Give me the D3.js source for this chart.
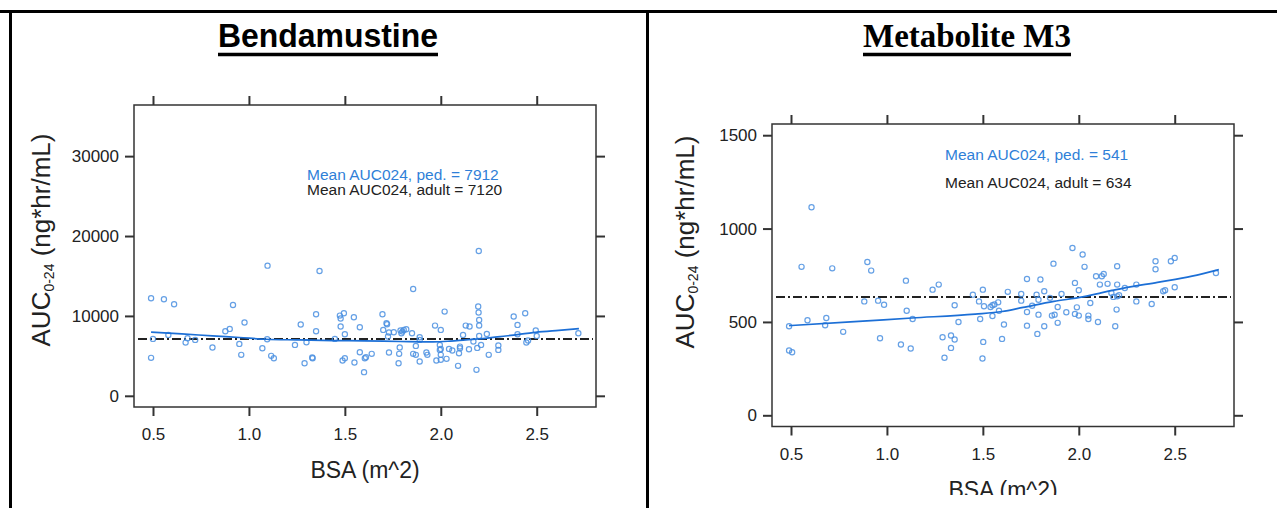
<!DOCTYPE html>
<html>
<head>
<meta charset="utf-8">
<script src="https://cdn.jsdelivr.net/npm/d3@7"></script>
<style>
  body { margin: 0; background: #fff; }
  svg { display: block; }
  .tick text { font-family: "Liberation Sans", Arial, sans-serif; fill: #222; }
</style>
</head>
<body>
<svg id="chart" width="1277" height="508"></svg>
<script>
// ---- data ----
const xTicks = [0.5, 1.0, 1.5, 2.0, 2.5];
const bendaYTicks = [0, 10000, 20000, 30000];
const m3YTicks = [0, 500, 1000, 1500];

const bendaBSA = [0.49, 0.557, 0.61, 0.49, 0.50, 0.58, 0.67, 0.68, 0.72, 0.81, 0.877, 0.90, 0.917, 0.95, 0.96, 0.977,
  1.07, 1.095, 1.097, 1.116, 1.13, 1.24, 1.27, 1.29, 1.30, 1.33, 1.332, 1.35, 1.35, 1.368, 1.448, 1.474, 1.478, 1.478,
  1.488, 1.495, 1.50, 1.50, 1.547, 1.55, 1.578, 1.578, 1.60, 1.604, 1.61, 1.64, 1.696, 1.70, 1.717, 1.72, 1.725, 1.73,
  1.73, 1.755, 1.78, 1.783, 1.786, 1.79, 1.795, 1.80, 1.807, 1.82, 1.85, 1.856, 1.856, 1.87, 1.87, 1.89, 1.89, 1.89,
  1.925, 1.93, 1.97, 1.977, 1.995, 1.995, 2.0, 2.0, 2.0, 2.0, 2.02, 2.03, 2.043, 2.06, 2.09, 2.095, 2.10, 2.10, 2.116,
  2.13, 2.15, 2.147, 2.17, 2.186, 2.19, 2.195, 2.197, 2.198, 2.2, 2.2, 2.2, 2.21, 2.24, 2.25, 2.30, 2.30, 2.38, 2.40,
  2.40, 2.44, 2.446, 2.455, 2.495, 2.50, 2.717];
const bendaAUC = [12210, 12090, 11460, 4750, 7125, 7625, 6660, 7200, 7000, 6040, 8080, 8375, 11375, 6500, 5125, 9170,
  5960, 7080, 16290, 5000, 4710, 6375, 8920, 4080, 6710, 4790, 4700, 10210, 8080, 15625, 7125, 10040, 9670, 8670,
  4420, 10330, 7710, 4710, 9830, 4170, 8580, 5460, 2960, 4710, 4830, 5250, 10210, 8250, 9080, 8950, 7420, 5420,
  7920, 7960, 4080, 5250, 6040, 8170, 7830, 8040, 8250, 8330, 7830, 13375, 5250, 6250, 5125, 4290, 7330, 7000,
  5420, 5125, 8790, 4420, 5750, 6375, 5125, 4500, 8250, 5875, 10540, 4625, 5875, 5667, 3750, 5330, 5960, 6160, 7625,
  8790, 8670, 5830, 6790, 3250, 6000, 11170, 10420, 18125, 9500, 8800, 7500, 6375, 7750, 5125, 6290, 5750, 9920, 7710,
  8875, 10330, 6670, 6920, 8170, 7500, 7830];

const bendaFitBSA = [0.49, 0.65, 0.81, 0.95, 1.09, 1.25, 1.44, 1.6, 1.79, 1.96, 2.05, 2.13, 2.22, 2.31, 2.4, 2.48, 2.6, 2.72];
const bendaFitAUC = [7960, 7750, 7500, 7300, 7080, 7000, 6920, 6880, 6800, 6750, 6850, 7000, 7150, 7420, 7650, 7920, 8150, 8420];

const m3BSA = [0.49, 0.49, 0.506, 0.555, 0.586, 0.607, 0.678, 0.684, 0.715, 0.772, 0.882, 0.898, 0.918, 0.954, 0.964,
  0.985, 1.073, 1.099, 1.103, 1.124, 1.134, 1.238, 1.27, 1.29, 1.30, 1.334, 1.334, 1.353, 1.353, 1.373, 1.448, 1.48,
  1.486, 1.498, 1.502, 1.50, 1.506, 1.54, 1.55, 1.55, 1.56, 1.58, 1.584, 1.60, 1.61, 1.63, 1.70, 1.70, 1.73, 1.73, 1.73,
  1.757, 1.78, 1.784, 1.79, 1.79, 1.80, 1.82, 1.82, 1.85, 1.86, 1.868, 1.874, 1.89, 1.89, 1.91, 1.935, 1.967, 1.98,
  1.98, 1.99, 2.0, 2.0, 2.02, 2.03, 2.05, 2.05, 2.06, 2.09, 2.10, 2.11, 2.12, 2.13, 2.15, 2.17, 2.18, 2.19, 2.197,
  2.20, 2.20, 2.20, 2.21, 2.24, 2.30, 2.30, 2.38, 2.40, 2.40, 2.44, 2.45, 2.48, 2.50, 2.50, 2.715];
const m3AUC = [477, 347, 338, 795, 509, 1114, 482, 521, 787, 447, 610, 821, 775, 614, 413,
  592, 379, 721, 560, 358, 516, 673, 700, 418, 308, 427, 361, 406, 589, 500, 646, 610,
  516, 304, 393, 673, 584, 580, 589, 532, 593, 605, 560, 409, 486, 661, 650, 614, 730, 553, 480,
  587, 646, 436, 619, 539, 727, 664, 477, 629, 534, 812, 539, 495, 580, 650, 552, 896, 709,
  543, 578, 670, 534, 861, 795, 534, 516, 601, 745, 500, 700, 745, 757, 704, 655, 634, 477, 566,
  798, 700, 637, 643, 682, 700, 610, 596, 825, 782, 664, 670, 825, 843, 686, 762];

const m3FitBSA = [0.49, 0.81, 1.13, 1.46, 1.6, 1.71, 1.87, 2.02, 2.1, 2.24, 2.41, 2.59, 2.73];
const m3FitAUC = [480, 500, 521, 542, 556, 578, 610, 634, 652, 682, 712, 745, 780];

// ---- drawing ----
const svg = d3.select('#chart');
const sans = '"Liberation Sans", Arial, sans-serif';
const serif = '"Liberation Serif", "Times New Roman", serif';
const ptColor = '#4a8fe0';
const fitColor = '#1c6fd6';
const xDomain = [0.401, 2.809];

// table lines
svg.append('line').attr('x1', 0).attr('x2', 1277).attr('y1', 11.5).attr('y2', 11.5)
  .attr('stroke', '#000').attr('stroke-width', 3);
svg.append('line').attr('x1', 10.5).attr('x2', 10.5).attr('y1', 10).attr('y2', 508)
  .attr('stroke', '#000').attr('stroke-width', 3);
svg.append('line').attr('x1', 647.5).attr('x2', 647.5).attr('y1', 10).attr('y2', 508)
  .attr('stroke', '#000').attr('stroke-width', 3);

function drawTitle(text, cx, font, len) {
  const t = svg.append('text')
    .attr('x', cx).attr('y', 47)
    .attr('text-anchor', 'middle')
    .attr('font-family', font).attr('font-weight', 'bold')
    .attr('font-size', 33).attr('fill', '#000')
    .text(text);
  if (len) t.attr('textLength', len).attr('lengthAdjust', 'spacingAndGlyphs');
  const w = t.node().getComputedTextLength();
  svg.append('line').attr('x1', cx - w / 2).attr('x2', cx + w / 2)
    .attr('y1', 54.5).attr('y2', 54.5).attr('stroke', '#000').attr('stroke-width', 3.5);
}

function drawPanel(p) {
  const g = svg.append('g');
  if (p.clipBottom) {
    g.append('clipPath').attr('id', p.id + 'clip')
      .append('rect').attr('x', 0).attr('y', 0).attr('width', 1277).attr('height', p.clipBottom);
    g.attr('clip-path', `url(#${p.id}clip)`);
  }
  const x = d3.scaleLinear().domain(xDomain).range([p.left, p.right]);
  const y = d3.scaleLinear().domain(p.yDomain).range([p.bottom, p.top]);

  const styleAxis = sel => {
    sel.select('.domain').remove();
    sel.selectAll('.tick line').attr('stroke', '#333').attr('stroke-width', 2);
    sel.selectAll('.tick text').attr('font-size', 17);
  };

  g.append('g').attr('transform', `translate(0,${p.bottom})`)
    .call(d3.axisBottom(x).tickValues(xTicks).tickSize(9).tickPadding(12).tickFormat(d3.format('.1f')))
    .call(styleAxis);
  g.append('g').attr('transform', `translate(0,${p.top})`)
    .call(d3.axisTop(x).tickValues(xTicks).tickSize(9).tickFormat(''))
    .call(styleAxis);
  g.append('g').attr('transform', `translate(${p.left},0)`)
    .call(d3.axisLeft(y).tickValues(p.yTicks).tickSize(9).tickPadding(6).tickFormat(d3.format('d')))
    .call(styleAxis);
  g.append('g').attr('transform', `translate(${p.right},0)`)
    .call(d3.axisRight(y).tickValues(p.yTicks).tickSize(9).tickFormat(''))
    .call(styleAxis);

  // frame
  g.append('rect').attr('x', p.left).attr('y', p.top)
    .attr('width', p.right - p.left).attr('height', p.bottom - p.top)
    .attr('fill', 'none').attr('stroke', '#333').attr('stroke-width', 1.5);

  // adult mean reference line
  g.append('line').attr('x1', p.left + 4).attr('x2', p.right - 3)
    .attr('y1', y(p.adultMean)).attr('y2', y(p.adultMean))
    .attr('stroke', '#222').attr('stroke-width', 2).attr('stroke-dasharray', '9,3,2,3');

  // points
  g.append('g').selectAll('circle')
    .data(p.bsa.map((b, i) => ({ b, v: p.auc[i] })))
    .join('circle')
    .attr('cx', d => x(d.b)).attr('cy', d => y(d.v)).attr('r', 2.6)
    .attr('fill', 'none').attr('stroke', ptColor).attr('stroke-width', 1.2).attr('opacity', 0.85);

  // smooth fit
  const line = d3.line().x(d => x(d[0])).y(d => y(d[1])).curve(d3.curveMonotoneX);
  g.append('path').datum(p.fitBSA.map((b, i) => [b, p.fitAUC[i]]))
    .attr('d', line).attr('fill', 'none').attr('stroke', fitColor).attr('stroke-width', 1.7);

  // annotation
  g.append('text').attr('x', p.noteX).attr('y', p.noteY[0])
    .attr('font-family', sans).attr('font-size', 15.5).attr('fill', '#2f7fd8')
    .text(`Mean AUC024, ped. = ${p.pedMean}`);
  g.append('text').attr('x', p.noteX).attr('y', p.noteY[1])
    .attr('font-family', sans).attr('font-size', 15.5).attr('fill', '#222')
    .text(`Mean AUC024, adult = ${p.adultMean}`);

  // axis titles
  g.append('text').attr('x', (p.left + p.right) / 2).attr('y', p.xTitleY)
    .attr('text-anchor', 'middle').attr('font-family', sans).attr('font-size', 23).attr('fill', '#222')
    .text('BSA (m^2)');
  const yt = g.append('text')
    .attr('transform', `translate(${p.yTitleX},${p.yTitleY}) rotate(-90)`)
    .attr('text-anchor', 'middle').attr('font-family', sans).attr('font-size', 26).attr('fill', '#222');
  yt.append('tspan').text('AUC');
  yt.append('tspan').attr('font-size', 14).attr('dy', 4).text('0-24');
  yt.append('tspan').attr('dy', -4).text(' (ng*hr/mL)');
}

drawTitle('Bendamustine', 328, sans, 220);
drawTitle('Metabolite M3', 967, serif, null);

drawPanel({
  id: 'benda', left: 134, right: 596, top: 105, bottom: 407,
  yDomain: [-1400, 36400], yTicks: bendaYTicks,
  bsa: bendaBSA, auc: bendaAUC, fitBSA: bendaFitBSA, fitAUC: bendaFitAUC,
  pedMean: 7912, adultMean: 7120, noteX: 307, noteY: [180, 195],
  xTitleY: 478, yTitleX: 50, yTitleY: 240
});
drawPanel({
  id: 'm3', left: 772, right: 1234, top: 124, bottom: 426.5, clipBottom: 495,
  yDomain: [-60, 1560], yTicks: m3YTicks,
  bsa: m3BSA, auc: m3AUC, fitBSA: m3FitBSA, fitAUC: m3FitAUC,
  pedMean: 541, adultMean: 634, noteX: 945, noteY: [160, 188],
  xTitleY: 498, yTitleX: 694, yTitleY: 242
});
</script>
</body>
</html>
